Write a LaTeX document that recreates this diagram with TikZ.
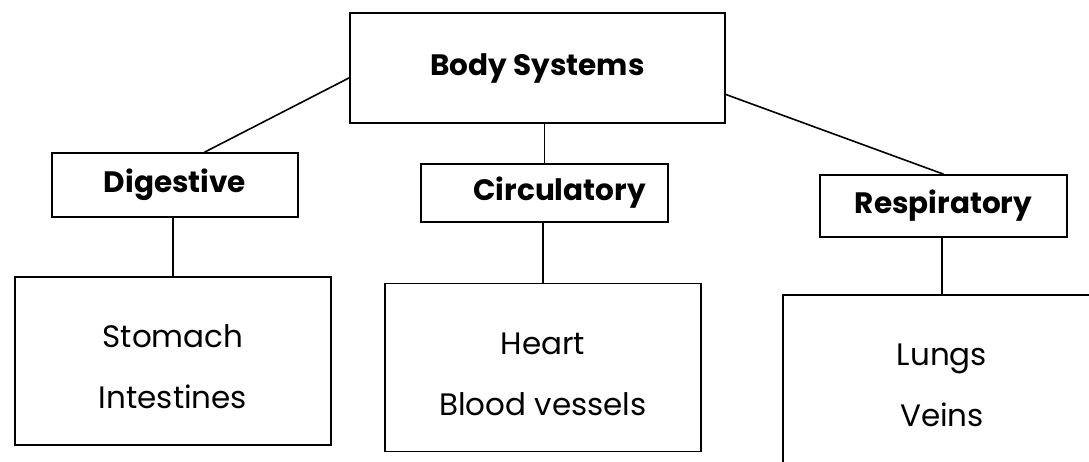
\documentclass[tikz,border=0pt]{standalone}
\usepackage{fontspec}
\setmainfont{Poppins}
\usetikzlibrary{calc}
\begin{document}
\begin{tikzpicture}[x=1pt,y=-1pt,
  box/.style={draw=black, line width=1.7pt, rectangle, inner sep=0pt, align=center},
  head/.style={box, font=\fontsize{29.5}{34}\selectfont\bfseries},
  items/.style={box, font=\fontsize{31}{61}\selectfont, minimum width=316pt, minimum height=168pt},
  link/.style={draw=black, line width=1.6pt}]
\useasboundingbox (0,0) rectangle (1089,461);
\clip (0,0) rectangle (1089,461);
\fill[white] (0,0) rectangle (1089,461);
% headers
\node[head, minimum width=375pt, minimum height=110pt] (body) at (537.5,68) {Body Systems};
\node[head, minimum width=246pt, minimum height=64pt] (dig) at (175,185) {Digestive};
\node[head, minimum width=247pt, minimum height=58pt] (circ) at (544.5,193) {\hspace*{30pt}Circulatory};
\node[head, minimum width=247pt, minimum height=62pt] (resp) at (943.5,206) {Respiratory};
% item boxes
\node[items] (stom) at (173,361) {\rule{0pt}{35pt}Stomach\\Intestines};
\node[items] (heart) at (543,367.5) {\rule{0pt}{35pt}Heart\\Blood vessels};
\node[items, minimum width=318pt] (lungs) at (942,379) {\rule{0pt}{35pt}Lungs\\Veins};
% connectors
\draw[link] (body.183.7) -- (dig.48.8);
\draw[link] (body.352.7) -- (resp.north);
\draw[link] (circ.north) -- (circ.north |- body.south);
\draw[link] (stom.north) -- (stom.north |- dig.south);
\draw[link] (heart.north) -- (heart.north |- circ.south);
\draw[link] (lungs.north) -- (lungs.north |- resp.south);
\end{tikzpicture}
\end{document}
